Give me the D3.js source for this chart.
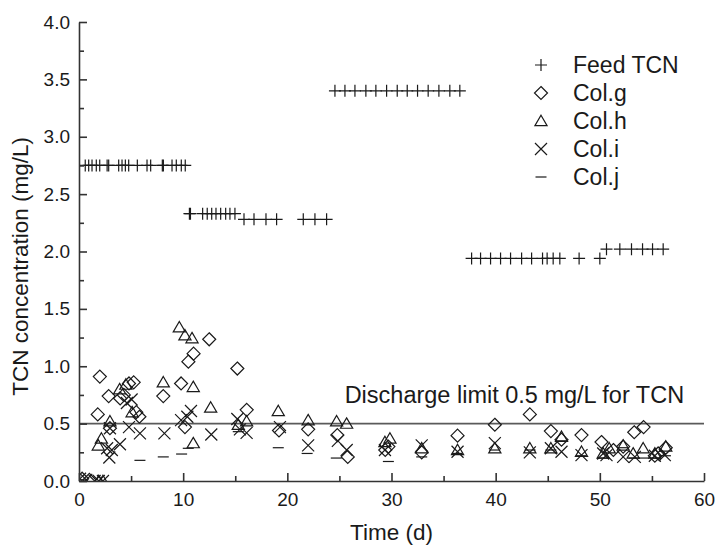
<!DOCTYPE html>
<html>
<head>
<meta charset="utf-8">
<script src="https://d3js.org/d3.v7.min.js"></script>
<style>
  body { margin: 0; background: #fff; }
  text { font-family: Arial, "Liberation Sans", sans-serif; fill: #1a1a1a; }
</style>
</head>
<body>
<div id="chart"></div>
<script>
// values: [time (d), concentration (mg/L)]
var feedTCN = [
  [0.6,2.75],[0.93,2.75],[1.25,2.75],[1.66,2.75],[1.99,2.75],[2.7,2.75],[2.85,2.75],[3.81,2.75],
  [4.13,2.75],[4.45,2.75],[4.77,2.75],[5.6,2.75],[6.53,2.75],[6.88,2.75],[8.0,2.75],[8.1,2.75],
  [8.93,2.75],[9.34,2.75],[9.82,2.75],[10.2,2.75],
  [10.6,2.33],[10.7,2.33],[11.87,2.33],[12.31,2.33],[12.74,2.33],[13.15,2.33],[13.6,2.33],
  [14.08,2.33],[14.49,2.33],[14.97,2.33],
  [15.84,2.28],[16.8,2.28],[17.95,2.28],[18.97,2.28],[21.53,2.28],[22.65,2.28],[23.77,2.28],
  [24.57,3.4],[25.53,3.4],[26.49,3.4],[27.54,3.4],[28.5,3.4],[29.53,3.4],[30.55,3.4],[31.51,3.4],
  [32.5,3.4],[33.52,3.4],[34.55,3.4],[35.6,3.4],[36.56,3.4],
  [37.69,1.94],[38.55,1.94],[39.51,1.94],[40.47,1.94],[41.43,1.94],[42.49,1.94],[43.45,1.94],
  [44.5,1.94],[44.94,1.94],[45.52,1.94],[46.16,1.94],[48.01,1.94],[50.0,1.94],
  [50.64,2.02],[51.92,2.02],[53.04,2.02],[54.1,2.02],[55.06,2.02],[56.08,2.02]
];
var colG = [
  [0.3,0.02],[1.0,0.01],[2.0,0.91],[1.8,0.58],[2.85,0.74],[2.97,0.46],[3.95,0.72],[4.3,0.75],
  [4.8,0.85],[5.25,0.86],[5.5,0.6],[5.8,0.56],[8.09,0.74],[9.8,0.85],[10.17,0.47],[10.5,1.04],
  [11.0,1.11],[12.5,1.235],[15.2,0.98],[16.1,0.62],[19.2,0.44],[22.0,0.45],[24.8,0.4],[25.8,0.21],
  [29.4,0.27],[29.7,0.3],[32.9,0.25],[36.34,0.395],[39.92,0.49],[43.28,0.58],[45.3,0.435],
  [46.32,0.36],[48.24,0.4],[50.16,0.34],[51.3,0.27],[52.24,0.3],[53.3,0.425],[54.2,0.47],
  [55.28,0.22],[55.6,0.24],[56.33,0.29]
];
var colH = [
  [1.9,0.0],[2.3,0.0],[1.85,0.31],[2.15,0.37],[2.97,0.52],[3.9,0.8],[4.5,0.84],[5.1,0.6],
  [8.09,0.86],[9.63,1.34],[10.17,1.27],[10.85,1.245],[10.97,0.82],[10.97,0.33],[12.64,0.64],
  [15.29,0.49],[16.09,0.52],[19.13,0.61],[22.0,0.53],[24.73,0.52],[25.69,0.5],[29.37,0.34],
  [29.85,0.37],[32.9,0.285],[36.34,0.27],[39.92,0.285],[43.28,0.285],[45.3,0.285],[46.32,0.385],
  [48.24,0.255],[50.32,0.24],[50.9,0.285],[52.24,0.31],[53.2,0.24],[54.16,0.285],[55.28,0.24],
  [56.33,0.3]
];
var colI = [
  [0.1,0.02],[0.7,0.01],[1.5,0.0],[1.9,0.0],[2.3,0.0],
  [2.91,0.205],[2.7,0.285],[3.15,0.27],[3.93,0.32],[2.97,0.46],[4.8,0.47],[4.6,0.68],[5.05,0.71],
  [5.85,0.415],[8.2,0.415],[9.8,0.53],[10.4,0.56],[10.75,0.61],[12.7,0.405],[15.2,0.54],
  [15.45,0.45],[16.09,0.42],[19.29,0.47],[22.0,0.31],[24.85,0.35],[25.7,0.27],[29.37,0.27],
  [32.9,0.31],[36.34,0.255],[39.92,0.33],[43.28,0.25],[45.3,0.285],[46.32,0.255],[48.24,0.225],
  [50.32,0.24],[50.64,0.225],[52.24,0.21],[53.36,0.21],[55.28,0.22],[56.24,0.225]
];
var colJ = [
  [0.3,0.01],[5.85,0.18],[8.09,0.21],[9.85,0.235],[10.49,0.285],[15.29,0.43],[19.13,0.29],
  [21.9,0.24],[24.7,0.2],[29.7,0.17],[32.9,0.21],[36.3,0.24],[39.9,0.27],[43.3,0.27],[45.3,0.27],
  [46.3,0.35],[48.2,0.22],[50.3,0.2],[52.2,0.29],[53.3,0.2],[54.2,0.2],[55.3,0.2],[56.3,0.22]
];

var legendNames = ["Feed TCN", "Col.g", "Col.h", "Col.i", "Col.j"];
var xTicks = [0, 10, 20, 30, 40, 50, 60];
var yTicks = [0, 0.5, 1.0, 1.5, 2.0, 2.5, 3.0, 3.5, 4.0];
var dischargeLimit = 0.5;

function main() {
    var width = 717, height = 545;
    var margin = {top: 22, right: 13, bottom: 64, left: 79};

    var xScale = d3.scaleLinear().domain([0, 60]).range([margin.left, width - margin.right]);
    var yScale = d3.scaleLinear().domain([0, 4]).range([height - margin.bottom, margin.top]);

    var svg = d3.select("#chart").append("svg")
        .attr("width", width)
        .attr("height", height);

    svg.append("defs").append("clipPath")
        .attr("id", "plotclip")
        .append("rect")
        .attr("x", xScale(0))
        .attr("y", yScale(4) - 8)
        .attr("width", xScale(60) - xScale(0) + 8)
        .attr("height", yScale(0) - yScale(4) + 8);

    // marker shapes
    var shapes = {
        plus: function(r) { return "M" + (-r) + ",0H" + r + "M0," + (-r) + "V" + r; },
        diamond: function(r) { return "M0," + (-r) + "L" + r + ",0L0," + r + "L" + (-r) + ",0Z"; },
        triangle: function(r) { return "M0," + (-r) + "L" + (r * 1.05) + "," + (r * 0.8) + "L" + (-r * 1.05) + "," + (r * 0.8) + "Z"; },
        cross: function(r) { return "M" + (-r) + "," + (-r) + "L" + r + "," + r + "M" + (-r) + "," + r + "L" + r + "," + (-r); },
        dash: function(r) { return "M" + (-r) + ",0H" + r; }
    };
    var series = [
        {data: feedTCN, shape: "plus", r: 6},
        {data: colG, shape: "diamond", r: 6.5},
        {data: colH, shape: "triangle", r: 5.8},
        {data: colI, shape: "cross", r: 6},
        {data: colJ, shape: "dash", r: 5.5}
    ];

    // discharge limit line
    svg.append("line")
        .attr("x1", xScale(0))
        .attr("x2", xScale(60))
        .attr("y1", yScale(dischargeLimit))
        .attr("y2", yScale(dischargeLimit))
        .attr("stroke", "#5a5a5a")
        .attr("stroke-width", 1.6);

    svg.append("text")
        .attr("x", xScale(25.5))
        .attr("y", yScale(0.68))
        .attr("font-size", "23.5px")
        .text("Discharge limit 0.5 mg/L for TCN");

    var plot = svg.append("g").attr("clip-path", "url(#plotclip)");
    series.forEach(function(s) {
        plot.append("g")
            .selectAll("path")
            .data(s.data)
            .join("path")
            .attr("transform", d => "translate(" + xScale(d[0]) + "," + yScale(d[1]) + ")")
            .attr("d", shapes[s.shape](s.r))
            .attr("fill", "none")
            .attr("stroke", "#1a1a1a")
            .attr("stroke-width", 1.2);
    });

    // axes, ticks pointing inward
    svg.append("g")
        .attr("transform", "translate(0," + yScale(0) + ")")
        .call(d3.axisBottom(xScale).tickValues(xTicks).tickFormat(d3.format("d"))
            .tickSizeInner(-8).tickSizeOuter(0).tickPadding(12));
    svg.append("g")
        .attr("transform", "translate(0," + yScale(0) + ")")
        .call(d3.axisBottom(xScale).tickValues([5, 15, 25, 35, 45, 55]).tickFormat("")
            .tickSizeInner(-5).tickSizeOuter(0))
        .select(".domain").remove();

    svg.append("g")
        .attr("transform", "translate(" + xScale(0) + ",0)")
        .call(d3.axisLeft(yScale).tickValues(yTicks).tickFormat(d3.format(".1f"))
            .tickSizeInner(-8).tickSizeOuter(0).tickPadding(9));
    svg.append("g")
        .attr("transform", "translate(" + xScale(0) + ",0)")
        .call(d3.axisLeft(yScale).tickValues([0.25, 0.75, 1.25, 1.75, 2.25, 2.75, 3.25, 3.75]).tickFormat("")
            .tickSizeInner(-5).tickSizeOuter(0))
        .select(".domain").remove();

    svg.selectAll(".domain, .tick line")
        .attr("stroke", "#333")
        .attr("stroke-width", 1.6);
    svg.selectAll(".tick text")
        .attr("font-size", "19px")
        .attr("font-family", "Arial, 'Liberation Sans', sans-serif")
        .attr("fill", "#1a1a1a");

    svg.append("text")
        .attr("text-anchor", "middle")
        .attr("x", xScale(30))
        .attr("y", 540)
        .attr("font-size", "22.5px")
        .text("Time (d)");

    svg.append("text")
        .attr("text-anchor", "middle")
        .attr("transform", "translate(28," + yScale(1.87) + ") rotate(-90)")
        .attr("font-size", "22.5px")
        .text("TCN concentration (mg/L)");

    // legend
    var legend = svg.append("g");
    series.forEach(function(s, i) {
        var ly = 65 + i * 28;
        legend.append("path")
            .attr("transform", "translate(541," + ly + ")")
            .attr("d", shapes[s.shape](s.r))
            .attr("fill", "none")
            .attr("stroke", "#1a1a1a")
            .attr("stroke-width", 1.2);
        legend.append("text")
            .attr("x", 573)
            .attr("y", ly + 8)
            .attr("font-size", "23px")
            .text(legendNames[i]);
    });
}
main();
</script>
</body>
</html>
